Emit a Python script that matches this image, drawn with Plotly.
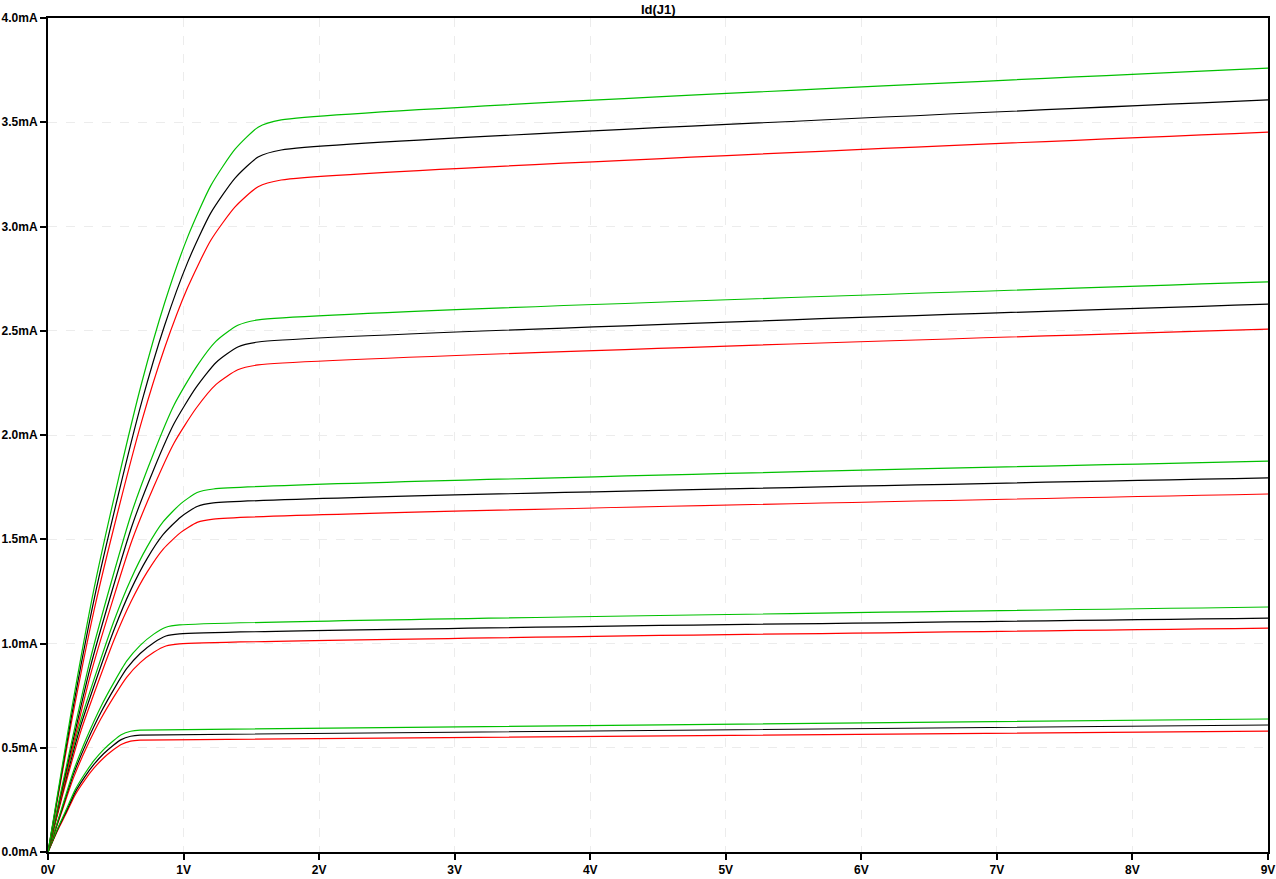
import plotly.graph_objects as go

# Drain-source voltage samples (V) per Vgs group
vds_a = [0, 0.17, 0.34, 0.52, 0.69, 0.86, 1.03, 1.20, 1.38, 1.55, 1.72, 9.0]
vds_b = [0, 0.16, 0.31, 0.47, 0.62, 0.78, 0.93, 1.09, 1.24, 1.40, 1.55, 9.0]
vds_c = [0, 0.12, 0.24, 0.37, 0.49, 0.61, 0.73, 0.85, 0.98, 1.10, 1.22, 9.0]
vds_d = [0, 0.10, 0.19, 0.29, 0.39, 0.49, 0.58, 0.68, 0.78, 0.87, 0.97, 9.0]
vds_e = [0, 0.07, 0.14, 0.20, 0.27, 0.34, 0.41, 0.48, 0.54, 0.61, 0.68, 9.0]

# Drain current (mA)
green_a = [0, 0.667, 1.264, 1.791, 2.247, 2.633, 2.949, 3.195, 3.371, 3.476, 3.511, 3.760]
black_a = [0, 0.640, 1.212, 1.717, 2.155, 2.525, 2.828, 3.064, 3.232, 3.333, 3.367, 3.607]
red_a = [0, 0.612, 1.160, 1.644, 2.063, 2.417, 2.707, 2.933, 3.094, 3.191, 3.223, 3.453]

green_b = [0, 0.485, 0.919, 1.302, 1.633, 1.914, 2.144, 2.322, 2.450, 2.526, 2.552, 2.734]
black_b = [0, 0.465, 0.881, 1.247, 1.565, 1.835, 2.055, 2.226, 2.348, 2.422, 2.446, 2.628]
red_b = [0, 0.444, 0.841, 1.191, 1.495, 1.752, 1.962, 2.126, 2.243, 2.313, 2.336, 2.508]

green_c = [0, 0.331, 0.627, 0.888, 1.114, 1.306, 1.462, 1.584, 1.671, 1.724, 1.741, 1.875]
black_c = [0, 0.318, 0.603, 0.854, 1.071, 1.256, 1.406, 1.523, 1.607, 1.657, 1.674, 1.794]
red_c = [0, 0.303, 0.575, 0.814, 1.022, 1.198, 1.341, 1.453, 1.533, 1.581, 1.597, 1.717]

green_d = [0, 0.207, 0.392, 0.555, 0.697, 0.817, 0.915, 0.991, 1.045, 1.078, 1.089, 1.175]
black_d = [0, 0.199, 0.377, 0.533, 0.669, 0.785, 0.879, 0.952, 1.004, 1.036, 1.046, 1.122]
red_d = [0, 0.190, 0.359, 0.509, 0.639, 0.749, 0.838, 0.908, 0.958, 0.988, 0.998, 1.074]

green_e = [0, 0.111, 0.211, 0.298, 0.374, 0.439, 0.491, 0.532, 0.562, 0.579, 0.585, 0.638]
black_e = [0, 0.107, 0.202, 0.286, 0.359, 0.421, 0.471, 0.511, 0.539, 0.555, 0.561, 0.609]
red_e = [0, 0.102, 0.193, 0.274, 0.344, 0.403, 0.451, 0.489, 0.516, 0.532, 0.537, 0.580]

x_ticks = [0, 1, 2, 3, 4, 5, 6, 7, 8, 9]
x_labels = ["0V", "1V", "2V", "3V", "4V", "5V", "6V", "7V", "8V", "9V"]
y_ticks = [0.0, 0.5, 1.0, 1.5, 2.0, 2.5, 3.0, 3.5, 4.0]
y_labels = ["0.0mA", "0.5mA", "1.0mA", "1.5mA", "2.0mA", "2.5mA", "3.0mA", "3.5mA", "4.0mA"]

GREEN = "#00c000"
BLACK = "#000000"
RED = "#ff0000"

series = [
    (vds_e, red_e, RED), (vds_e, black_e, BLACK), (vds_e, green_e, GREEN),
    (vds_d, red_d, RED), (vds_d, black_d, BLACK), (vds_d, green_d, GREEN),
    (vds_c, red_c, RED), (vds_c, black_c, BLACK), (vds_c, green_c, GREEN),
    (vds_b, red_b, RED), (vds_b, black_b, BLACK), (vds_b, green_b, GREEN),
    (vds_a, red_a, RED), (vds_a, black_a, BLACK), (vds_a, green_a, GREEN),
]

fig = go.Figure()
for xs, ys, col in series:
    fig.add_trace(go.Scatter(x=xs, y=ys, mode="lines",
                             line=dict(color=col, width=1.2, shape="spline", smoothing=0.6),
                             showlegend=False, hoverinfo="x+y"))

tickfont = dict(family="Liberation Sans, Arial, sans-serif", size=12, color="black")
axis_common = dict(
    showline=True, linecolor="black", linewidth=2, mirror=True,
    ticks="outside", ticklen=6, tickwidth=1.5, tickcolor="black",
    showgrid=True, gridcolor="#ececec", griddash="dash", gridwidth=1,
    zeroline=False, tickfont=tickfont, automargin=False,
    ticklabeloverflow="allow",
)

fig.update_xaxes(range=[0, 9], tickvals=x_ticks,
                 ticktext=["<b>%s</b>" % t for t in x_labels], **axis_common)
fig.update_yaxes(range=[0, 4], tickvals=y_ticks,
                 ticktext=["<b>%s</b>" % t for t in y_labels], **axis_common)

fig.update_layout(
    width=1276, height=879,
    margin=dict(l=48, r=8, t=18, b=27),
    paper_bgcolor="white", plot_bgcolor="white",
    title=dict(text="<b>Id(J1)</b>", x=0.5159, xanchor="center", y=0.9895, yanchor="middle",
               font=dict(family="Liberation Sans, Arial, sans-serif", size=13, color="black")),
)

fig.write_html("out.html", config={"displayModeBar": False},
               post_script="document.body.style.margin='0';document.body.style.overflow='hidden';")
